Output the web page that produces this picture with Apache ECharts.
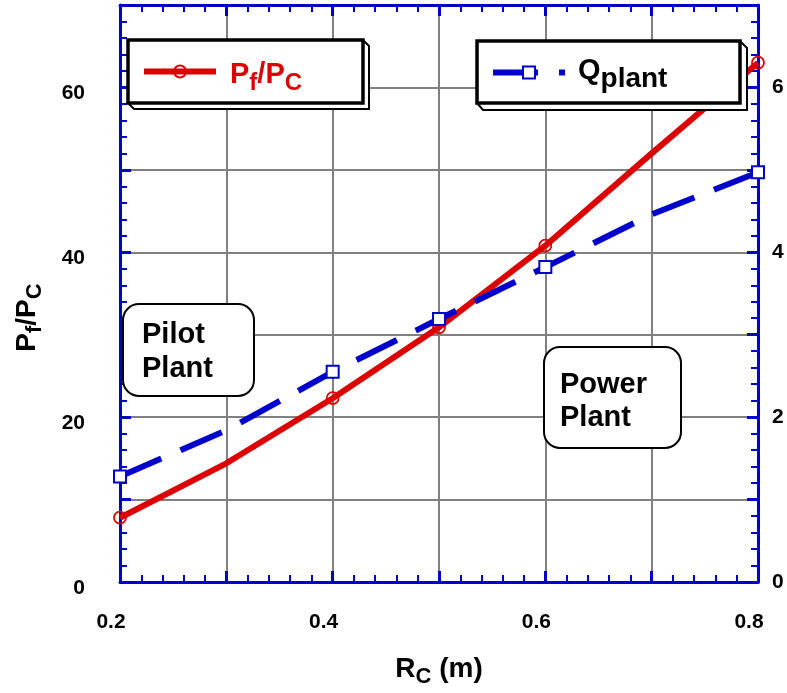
<!DOCTYPE html>
<html><head><meta charset="utf-8">
<script src="https://cdn.jsdelivr.net/npm/echarts@6/dist/echarts.min.js"></script>
<style>html,body{margin:0;padding:0;background:#fff}#c{width:787px;height:693px}</style>
</head><body><div id="c"></div>
<script>
// ---- data ----
const rc = [0.2, 0.3, 0.4, 0.5, 0.6, 0.7, 0.8];
const pfPc = [7.8, 14.4, 22.3, 30.9, 40.8, 52.0, 63.0];
const qPlant = [1.28, 1.84, 2.55, 3.19, 3.82, 4.46, 4.97];
const markerIdx = [0, 2, 3, 4, 6];
const xTickLabels = [0.2, 0.4, 0.6, 0.8];
const leftTickLabels = [0, 20, 40, 60];
const rightTickLabels = [0, 2, 4, 6];

const RED = '#dd0000', BLUE = '#0000c8', LBLUE = '#0000cc', GRAY = '#808080';
const FF = 'Liberation Sans';

function hasTick(list, v) { return list.some(t => Math.abs(t - v) < 1e-6); }

function subRich(color, mainSize, subSize, drop) {
  return {
    m: {fontFamily: FF, fontWeight: 'bold', fontSize: mainSize, color: color, lineHeight: mainSize + 2, verticalAlign: 'bottom', padding: [0, 0, drop, 0]},
    s: {fontFamily: FF, fontWeight: 'bold', fontSize: subSize, color: color, lineHeight: subSize + 2, verticalAlign: 'bottom'}
  };
}

const axisCommon = {
  axisLine: {show: true, onZero: false, lineStyle: {color: BLUE, width: 3}},
  axisTick: {show: true, inside: true, length: 11, lineStyle: {color: BLUE, width: 3}},
  minorTick: {show: true, splitNumber: 5, length: 7, lineStyle: {color: BLUE, width: 2}}
};

const chart = echarts.init(document.getElementById('c'), null, {renderer: 'canvas'});
chart.setOption({
  animation: false,
  backgroundColor: '#fff',
  grid: {left: 120, right: 29, top: 5, bottom: 109, containLabel: false},
  xAxis: [
    Object.assign({}, axisCommon, {
      type: 'value', min: 0.2, max: 0.8, interval: 0.1, position: 'bottom',
      splitLine: {show: true, lineStyle: {color: GRAY, width: 2}},
      axisLabel: {show: true, margin: 30, padding: [0, 18, 0, 0], fontFamily: FF, fontWeight: 'bold', fontSize: 21, color: '#000',
        formatter: v => hasTick(xTickLabels, v) ? v.toFixed(1) : ''},
      name: '{m|R}{s|C}{m| (m)}', nameLocation: 'middle', nameGap: 76,
      nameTextStyle: {rich: subRich('#000', 28, 22, 5)}
    }),
    Object.assign({}, axisCommon, {
      type: 'value', min: 0.2, max: 0.8, interval: 0.1, position: 'top',
      splitLine: {show: false}, axisLabel: {show: false}
    })
  ],
  yAxis: [
    Object.assign({}, axisCommon, {
      type: 'value', min: 0, max: 70, interval: 10, position: 'left',
      splitLine: {show: true, lineStyle: {color: GRAY, width: 2}},
      axisLabel: {show: true, margin: 35, verticalAlign: 'top', lineHeight: 12, fontFamily: FF, fontWeight: 'bold', fontSize: 21, color: '#000',
        formatter: v => hasTick(leftTickLabels, v) ? String(v) : ''},
      name: '{m|P}{s|f}{m|/P}{s|C}', nameLocation: 'middle', nameGap: 74, nameRotate: 90,
      nameTextStyle: {padding: [0, 48, 0, 0], rich: subRich('#000', 28, 22, 5)}
    }),
    Object.assign({}, axisCommon, {
      type: 'value', min: 0, max: 7, interval: 1, position: 'right',
      splitLine: {show: false},
      axisLabel: {show: true, margin: 14, fontFamily: FF, fontWeight: 'bold', fontSize: 21, color: '#000',
        formatter: v => hasTick(rightTickLabels, v) ? String(v) : ''}
    })
  ],
  legend: [
    {data: ['Pf/Pc'], left: 141, top: 60, padding: 0, itemWidth: 72, itemHeight: 15, selectedMode: false, z: 10,
      lineStyle: {width: 6},
      formatter: () => '{m|P}{s|f}{m|/P}{s|C}',
      textStyle: {padding: [16, 0, 0, 9], rich: subRich(RED, 29, 24, 6)}},
    {data: ['Qplant'], left: 490, top: 56, padding: 0, itemWidth: 72, itemHeight: 15, selectedMode: false, z: 10,
      lineStyle: {width: 6},
      formatter: () => '{m|Q}{s|plant}',
      textStyle: {padding: [10, 0, 0, 8], rich: subRich('#000', 29, 28, 8)}}
  ],
  graphic: [
    {type: 'polygon', z: 5, shape: {points: [[128, 103], [134, 109], [369, 109], [369, 46], [363, 40]]}, style: {fill: '#fff', stroke: '#000', lineWidth: 2}},
    {type: 'rect', z: 5, shape: {x: 128, y: 40, width: 235, height: 63}, style: {fill: '#fff', stroke: '#000', lineWidth: 3.5}},
    {type: 'polygon', z: 5, shape: {points: [[477, 103], [483, 110], [747, 110], [747, 48], [740, 41]]}, style: {fill: '#fff', stroke: '#000', lineWidth: 2}},
    {type: 'rect', z: 5, shape: {x: 477, y: 41, width: 263, height: 62}, style: {fill: '#fff', stroke: '#000', lineWidth: 3.5}},
    {type: 'rect', z: 3, shape: {x: 123, y: 304, width: 131, height: 92, r: 16}, style: {fill: '#fff', stroke: '#000', lineWidth: 2}},
    {type: 'text', z: 4, x: 142, y: 318, style: {text: 'Pilot\nPlant', font: 'bold 29px "Liberation Sans"', lineHeight: 34, fill: '#000'}},
    {type: 'rect', z: 3, shape: {x: 544, y: 347, width: 137, height: 101, r: 16}, style: {fill: '#fff', stroke: '#000', lineWidth: 2}},
    {type: 'text', z: 4, x: 560, y: 368, style: {text: 'Power\nPlant', font: 'bold 29px "Liberation Sans"', lineHeight: 33, fill: '#000'}}
  ],
  series: [
    {name: 'Pf/Pc', type: 'line', xAxisIndex: 0, yAxisIndex: 0,
      symbol: 'circle', symbolSize: 12,
      itemStyle: {color: 'rgba(255,255,255,0)', borderColor: RED, borderWidth: 1.8},
      lineStyle: {color: RED, width: 6},
      data: rc.map((x, i) => ({value: [x, pfPc[i]], symbol: markerIdx.includes(i) ? 'circle' : 'none'}))},
    {name: 'Qplant', type: 'line', xAxisIndex: 0, yAxisIndex: 1,
      symbol: 'rect', symbolSize: 12,
      itemStyle: {color: '#fff', borderColor: LBLUE, borderWidth: 2},
      lineStyle: {color: LBLUE, width: 6, type: [45, 21]},
      data: rc.map((x, i) => ({value: [x, qPlant[i]], symbol: markerIdx.includes(i) ? 'rect' : 'none'}))}
  ]
});
</script></body></html>
